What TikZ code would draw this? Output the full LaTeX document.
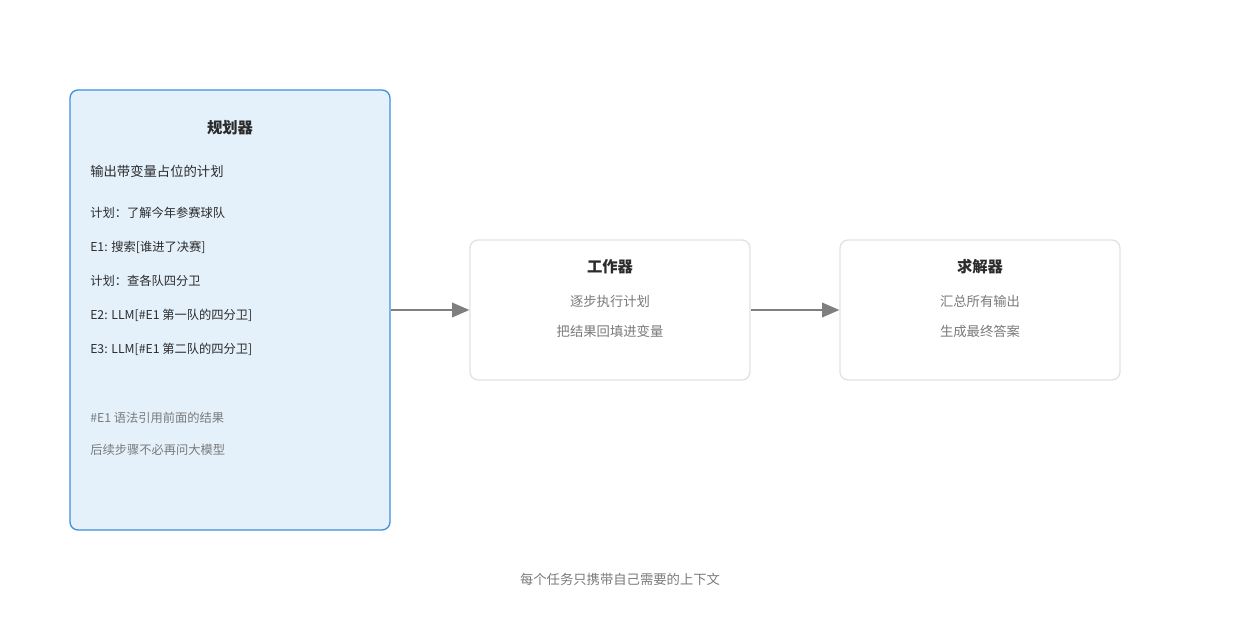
\documentclass[tikz,border=0pt]{standalone}
\usepackage{fontspec}
\setmainfont{Noto Sans CJK SC}
\usetikzlibrary{arrows.meta}
\definecolor{planfill}{HTML}{E4F1FB}
\definecolor{planline}{HTML}{3D8FDB}
\definecolor{boxline}{HTML}{E2E2E2}
\definecolor{txt}{HTML}{2B2B2B}
\definecolor{soft}{HTML}{7A7A7A}
\definecolor{arr}{HTML}{7F7F7F}
\begin{document}
\begin{tikzpicture}
            [x=0.75pt, y=-0.75pt,
             every node/.style={inner sep=0pt, text=txt, font=\fontsize{10}{12}\selectfont},
             box/.style={draw=boxline, line width=1pt, rounded corners=6pt, fill=white},
             title/.style={font=\fontsize{11.5}{13}\selectfont\bfseries},
             line/.style={anchor=west, font=\fontsize{9.2}{11}\selectfont},
             note/.style={text=soft},
             flow/.style={draw=arr, line width=1.3pt, -{Triangle[length=13pt, width=11pt]}}]
                \useasboundingbox (0,0) rectangle (1240,620);
                \node (planner) [box, draw=planline, fill=planfill, minimum width=240pt, minimum height=330pt] at (230,310) {};
                \node (worker) [box, minimum width=210pt, minimum height=105pt] at (610,310) {};
                \node (solver) [box, minimum width=210pt, minimum height=105pt] at (980,310) {};
                \node (pt) [title] at (230,128) {规划器};
                \node (p1) [line, font=\fontsize{10}{12}\selectfont] at (90,171) {输出带变量占位的计划};
                \node (p2) [line] at (90,213) {计划：了解今年参赛球队};
                \node (p3) [line] at (90,247) {E1: 搜索[谁进了决赛]};
                \node (p4) [line] at (90,281) {计划：查各队四分卫};
                \node (p5) [line] at (90,315) {E2: LLM[\#E1 第一队的四分卫]};
                \node (p6) [line] at (90,349) {E3: LLM[\#E1 第二队的四分卫]};
                \node (p7) [line, note] at (90,418) {\#E1 语法引用前面的结果};
                \node (p8) [line, note] at (90,450) {后续步骤不必再问大模型};
                \node (wt) [title] at (610,267) {工作器};
                \node (w1) [note] at (610,301) {逐步执行计划};
                \node (w2) [note] at (610,331) {把结果回填进变量};
                \node (st) [title] at (980,267) {求解器};
                \node (s1) [note] at (980,301) {汇总所有输出};
                \node (s2) [note] at (980,331) {生成最终答案};
                \node (cap) [note] at (620,579) {每个任务只携带自己需要的上下文};
                \draw [flow] (planner) to (worker);
                \draw [flow] (worker) to (solver);
            \end{tikzpicture}
\end{document}
